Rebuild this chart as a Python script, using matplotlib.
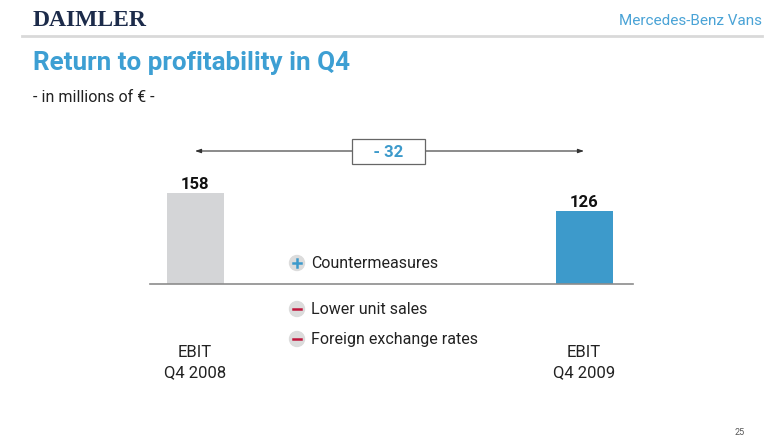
import matplotlib.pyplot as plt
from matplotlib.patches import Ellipse

# data
categories = ["EBIT\nQ4 2008", "EBIT\nQ4 2009"]
ebit = [158, 126]
bar_colors = ["#d4d5d7", "#3d9acb"]
delta_label = "- 32"
factors = ["Countermeasures", "Lower unit sales", "Foreign exchange rates"]
factor_signs = ["+", "-", "-"]

W, H = 780, 439
plt.rcParams['font.family'] = ['Roboto', 'DejaVu Sans']

fig = plt.figure(figsize=(W / 100, H / 100), dpi=100)


def fx(x):
    return x / W


def fy(y):
    return 1 - y / H


# header
fig.add_artist(plt.Line2D([fx(22), fx(762)], [fy(37), fy(37)], color="#d9d9d9", lw=2))
fig.text(fx(33), fy(21), "DAIMLER", family="Liberation Serif", weight="bold",
         fontsize=17, color="#1c2b4a", va="center")
fig.text(fx(762), fy(21), "Mercedes-Benz Vans", fontsize=11, color="#4aa3d6",
         ha="right", va="center")
fig.text(fx(33), fy(63), "Return to profitability in Q4", fontsize=18.7,
         weight="bold", color="#3d9fd3", va="center")
fig.text(fx(33), fy(98), "- in millions of \u20ac -", fontsize=11.5, color="#222222",
         va="center")
fig.text(fx(740), fy(433), "25", fontsize=6.5, color="#555555", ha="center",
         va="center")

# bar chart axes: baseline at y=285px, 158 -> 91px
px_per_unit = 91 / 158
ymax = 250
ax_h = ymax * px_per_unit
ax = fig.add_axes([fx(150), fy(285), fx(633) - fx(150), ax_h / H])
x = [0, 1]
ax.bar(x, ebit, width=57 / 389, color=bar_colors)
ax.set_xlim(-45 / 389, 438 / 389)
ax.set_ylim(0, ymax)
for s in ["top", "right", "left"]:
    ax.spines[s].set_visible(False)
ax.spines["bottom"].set_color("#8c8c8c")
ax.spines["bottom"].set_linewidth(1.2)
ax.set_yticks([])
ax.set_xticks(x, categories)
ax.tick_params(axis="x", length=0, pad=43, labelsize=12, labelcolor="#222222")
for lbl in ax.get_xticklabels():
    lbl.set_linespacing(1.45)

for xi, v in zip(x, ebit):
    ax.annotate(str(v), (xi, v), xytext=(0, 1.5), textcoords="offset points",
                ha="center", va="bottom", fontsize=12, weight="bold",
                color="#111111")

# difference arrow with box
arrow_y = (285 - 152) / px_per_unit
mid = (388.5 - 195) / 389
for end in (0, 1):
    ax.annotate("", xy=(end, arrow_y), xytext=(mid, arrow_y),
                arrowprops=dict(arrowstyle="-|>,head_length=0.35,head_width=0.12",
                                color="#333333", lw=0.8, shrinkA=0, shrinkB=0),
                annotation_clip=False)
ax.text(mid, arrow_y, "    " + delta_label + "    ", ha="center", va="center",
        fontsize=12, weight="bold", color="#3d9acb", clip_on=False,
        bbox=dict(boxstyle="square,pad=0.3", fc="white", ec="#666666", lw=0.9),
        zorder=5)

# factor list
factor_y = [264, 310, 340]
for name, sign, yy in zip(factors, factor_signs, factor_y):
    fig.add_artist(Ellipse((fx(297), fy(yy)), width=15 / W, height=15 / H,
                           transform=fig.transFigure, color="#dcdcdc", zorder=1))
    col = "#3d9acb" if sign == "+" else "#c0163c"
    fig.add_artist(plt.Line2D([fx(293), fx(301)], [fy(yy), fy(yy)],
                              color=col, lw=1.8, zorder=2))
    if sign == "+":
        fig.add_artist(plt.Line2D([fx(297), fx(297)], [fy(yy - 4), fy(yy + 4)],
                                  color=col, lw=1.8, zorder=2))
    fig.text(fx(311), fy(yy), name, fontsize=11.5, color="#222222", va="center")

fig.savefig("out.png", dpi=100)
